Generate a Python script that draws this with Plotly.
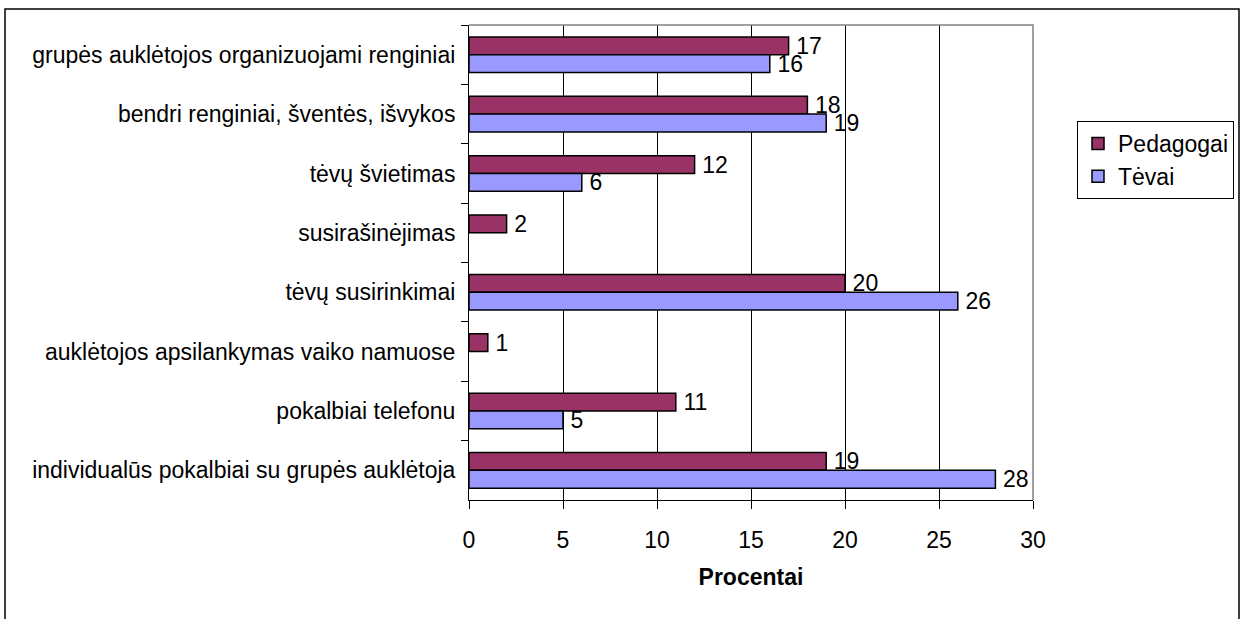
import plotly.graph_objects as go

categories = [
    "grupės auklėtojos organizuojami renginiai",
    "bendri renginiai, šventės, išvykos",
    "tėvų švietimas",
    "susirašinėjimas",
    "tėvų susirinkimai",
    "auklėtojos apsilankymas vaiko namuose",
    "pokalbiai telefonu",
    "individualūs pokalbiai su grupės auklėtoja",
]
pedagogai = [17, 18, 12, 2, 20, 1, 11, 19]
tevai = [16, 19, 6, None, 26, None, 5, 28]
x_ticks = [0, 5, 10, 15, 20, 25, 30]

FONT = "Arial, Liberation Sans, sans-serif"
FS = 23
PAD = "\u2009"

def labels(vals):
    return [PAD + str(v) if v is not None else "" for v in vals]

fig = go.Figure()
fig.add_trace(go.Bar(
    name="Pedagogai", y=categories, x=pedagogai, orientation="h",
    marker=dict(color="#993366", line=dict(color="#000000", width=1.5)),
    text=labels(pedagogai),
    textposition="outside", constraintext="none", cliponaxis=False,
    textfont=dict(family=FONT, size=FS, color="#000000"),
))
fig.add_trace(go.Bar(
    name="Tėvai", y=categories, x=tevai, orientation="h",
    marker=dict(color="#9999FF", line=dict(color="#000000", width=1.5)),
    text=labels(tevai),
    textposition="outside", constraintext="none", cliponaxis=False,
    textfont=dict(family=FONT, size=FS, color="#000000"),
))

L, R, T, B = 469, 1033, 25, 500
W, H = 1242, 619
pw, ph = R - L, B - T

def px(x):
    return (x - L) / pw

def py(y):
    return (B - y) / ph

fig.update_layout(
    width=W, height=H,
    margin=dict(l=L, r=W - R, t=T, b=H - B, autoexpand=False),
    paper_bgcolor="white", plot_bgcolor="white",
    font=dict(family=FONT, size=FS, color="#000000"),
    barmode="group", bargap=0.4, bargroupgap=0.0,
    showlegend=True,
    legend=dict(
        x=px(1234), xanchor="right", y=py(121), yanchor="top",
        bordercolor="#000000", borderwidth=1, bgcolor="white",
        font=dict(family=FONT, size=FS, color="#000000"),
        itemwidth=30, tracegroupgap=0,
    ),
    xaxis=dict(
        range=[0, 30], tickvals=x_ticks, ticktext=[str(v) for v in x_ticks],
        showgrid=True, gridcolor="#000000", gridwidth=1,
        showline=True, linecolor="#000000", linewidth=1,
        ticks="outside", ticklen=8, tickcolor="#000000", tickwidth=1,
        ticklabelstandoff=11, zeroline=False,
        tickfont=dict(family=FONT, size=FS),
        title=dict(text="<b>Procentai</b>", standoff=17,
                   font=dict(family=FONT, size=FS)),
    ),
    yaxis=dict(
        autorange="reversed", type="category",
        showgrid=False, showline=True, linecolor="#000000", linewidth=1,
        ticks="outside", tickson="boundaries", ticklen=7,
        tickcolor="#000000", tickwidth=1, ticklabelstandoff=8,
        tickfont=dict(family=FONT, size=FS),
    ),
    shapes=[
        dict(type="path", xref="paper", yref="paper",
             path="M 0,1 L 1,1 L 1,0", line=dict(color="#808080", width=1.5),
             layer="above"),
        dict(type="rect", xref="paper", yref="paper",
             x0=px(5), x1=px(1239), y0=py(630), y1=py(9),
             line=dict(color="#000000", width=1.5), layer="below"),
    ],
)

fig.write_html("out.html", config={"displayModeBar": False},
               post_script="document.body.style.margin='0';")
